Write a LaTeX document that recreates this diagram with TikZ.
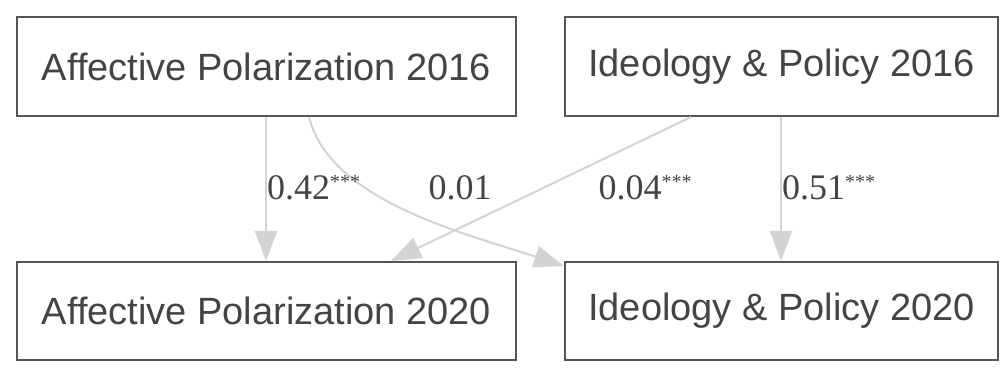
\documentclass[tikz,border=0pt]{standalone}
\usepackage{fontspec}
\setmainfont{Liberation Serif}
\newfontfamily\boxfont{Liberation Sans}
\usetikzlibrary{arrows.meta,calc}
\definecolor{boxline}{HTML}{555555}
\definecolor{boxtext}{HTML}{444444}
\definecolor{edgegray}{HTML}{D3D3D3}
\newcommand{\sigstars}{\raisebox{11pt}{\fontsize{20}{22}\selectfont ***}}
\begin{document}
\begin{tikzpicture}[x=1pt,y=-1pt,
  var/.style={draw=boxline,line width=2pt,text=boxtext,fill=white,inner sep=0pt,
    font=\boxfont\fontsize{38}{44}\selectfont},
  path/.style={draw=edgegray,line width=2pt,-{Triangle[length=30pt,width=22pt]}},
  coef/.style={text=boxtext,inner sep=0pt,font=\fontsize{36}{40}\selectfont}]
\useasboundingbox[fill=white] (0,0) rectangle (1000,371);
\node[var,minimum width=499pt,minimum height=99pt] (ap16) at (266.5,66.5) {Affective Polarization 2016};
\node[var,minimum width=433pt,minimum height=99pt] (ip16) at (781.5,66.5) {Ideology \& Policy 2016};
\node[var,minimum width=499pt,minimum height=98pt] (ap20) at (266.5,311) {Affective Polarization 2020};
\node[var,minimum width=433pt,minimum height=98pt] (ip20) at (781.5,311) {Ideology \& Policy 2020};
\draw[path] ([xshift=250pt]ap16.south west) -- ([xshift=250pt]ap20.north west);
\draw[path] ([xshift=293pt]ap16.south west) .. controls (330,200) and (460,232) .. ([yshift=-5pt]ip20.north west);
\draw[path] ([xshift=127pt]ip16.south west) -- ([xshift=375pt]ap20.north west);
\draw[path] ([xshift=217pt]ip16.south west) -- ([xshift=217pt]ip20.north west);
\node[coef,anchor=west] (c1) at (267,188) {0.42\sigstars};
\node[coef] (c2) at (460,188) {0.01};
\node[coef] (c3) at (645,188) {0.04\sigstars};
\node[coef,anchor=west] (c4) at (782,188) {0.51\sigstars};
\end{tikzpicture}
\end{document}
